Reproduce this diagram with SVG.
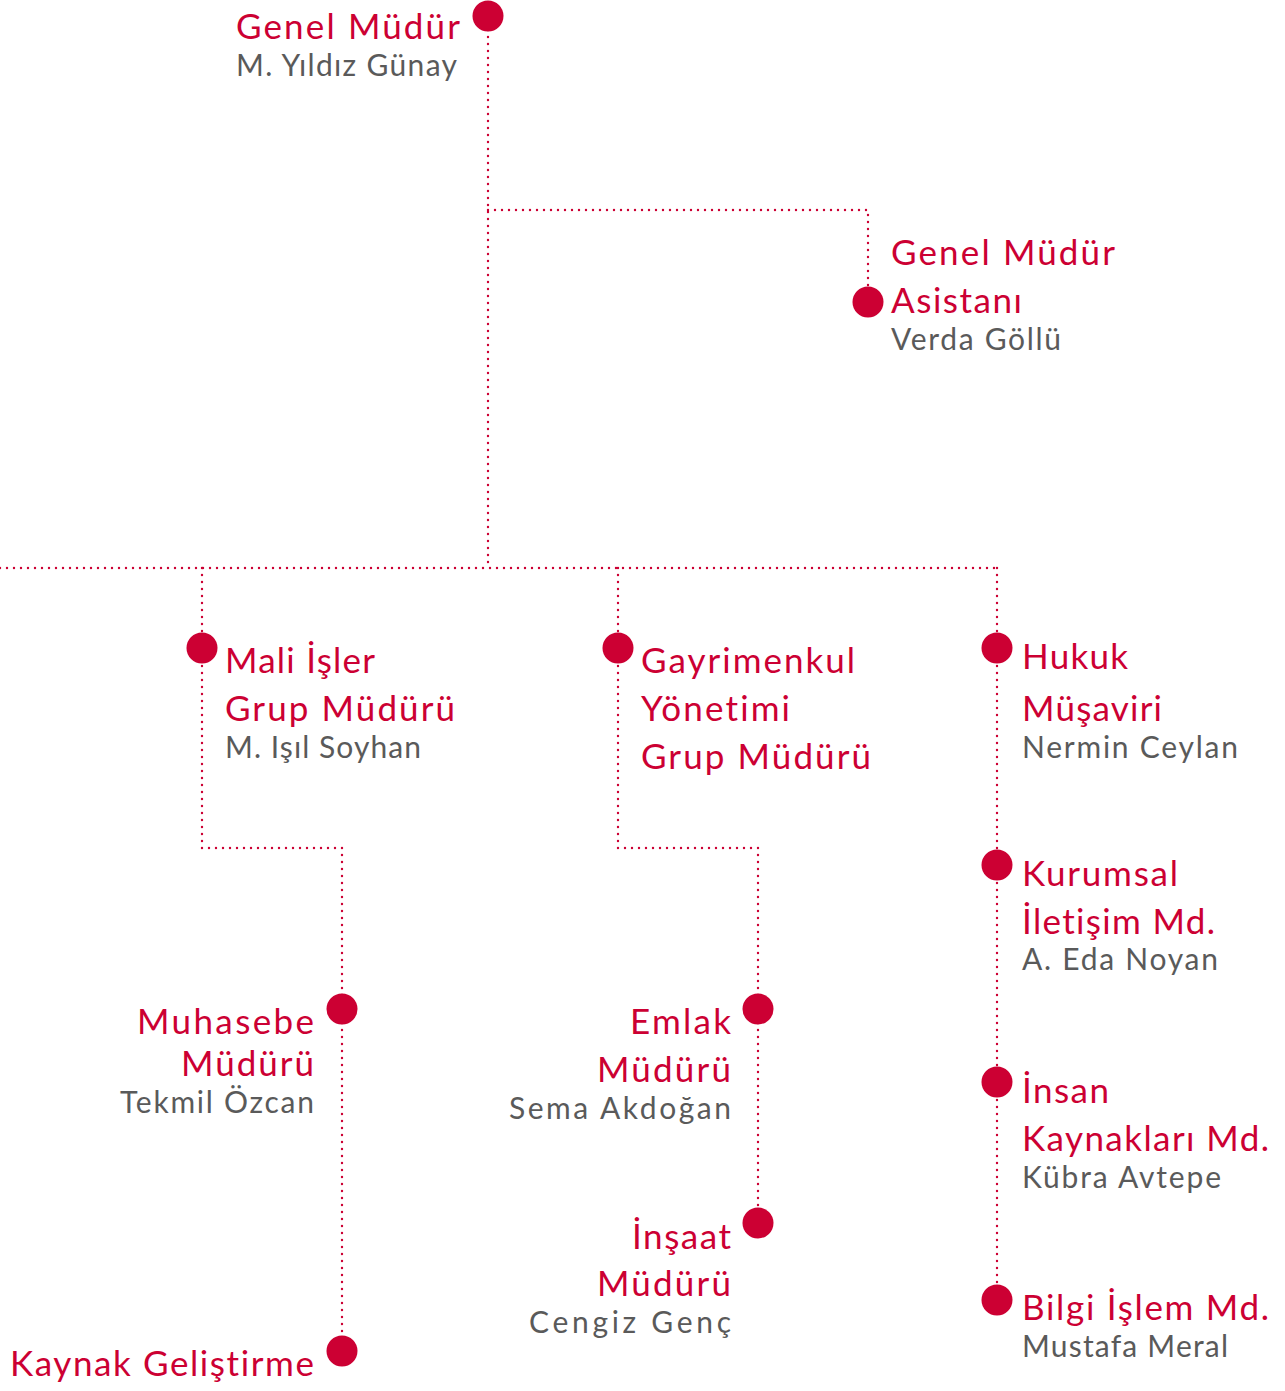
<svg xmlns="http://www.w3.org/2000/svg" width="1285" height="1391" viewBox="0 0 1285 1391">
<style>
.c{fill:none;stroke:#cc0033;stroke-width:2.4;stroke-linecap:round;stroke-dasharray:0 7}
.d{fill:#cc0033}
.t{font-family:Lato,"Open Sans",sans-serif;font-size:35px;fill:#cc0033;font-variant-ligatures:none}
.n{font-family:Lato,"Open Sans",sans-serif;font-size:30px;fill:#5a5a5a;font-variant-ligatures:none}
.e{text-anchor:end}
</style>
<rect width="1285" height="1391" fill="#fff"/>
<g id="connectors">
<path class="c" d="M488,16 V568"/>
<path class="c" d="M488,210 H868 V302"/>
<path class="c" d="M0,568 H997"/>
<path class="c" d="M202,568 V848 H342 V1351"/>
<path class="c" d="M618,568 V848 H758 V1223"/>
<path class="c" d="M997,568 V1300"/>
</g>
<g id="genel-mudur">
<circle class="d" cx="488" cy="16" r="15.5"/>
<text class="t e" x="460" y="39" textLength="224" lengthAdjust="spacing">Genel Müdür</text>
<text class="n e" x="457" y="76" textLength="221" lengthAdjust="spacing">M. Yıldız Günay</text>
</g>
<g id="asistan">
<circle class="d" cx="868" cy="302" r="15.5"/>
<text class="t" x="891" y="265" textLength="224" lengthAdjust="spacing">Genel Müdür</text>
<text class="t" x="891" y="313" textLength="131" lengthAdjust="spacing">Asistanı</text>
<text class="n" x="891" y="350" textLength="170" lengthAdjust="spacing">Verda Göllü</text>
</g>
<g id="mali-isler">
<circle class="d" cx="202" cy="648" r="15.5"/>
<text class="t" x="225" y="673" textLength="150" lengthAdjust="spacing">Mali İşler</text>
<text class="t" x="225" y="721" textLength="230" lengthAdjust="spacing">Grup Müdürü</text>
<text class="n" x="225" y="758" textLength="196" lengthAdjust="spacing">M. Işıl Soyhan</text>
</g>
<g id="gayrimenkul">
<circle class="d" cx="618" cy="648" r="15.5"/>
<text class="t" x="641" y="673" textLength="214" lengthAdjust="spacing">Gayrimenkul</text>
<text class="t" x="641" y="721" textLength="149" lengthAdjust="spacing">Yönetimi</text>
<text class="t" x="641" y="769" textLength="230" lengthAdjust="spacing">Grup Müdürü</text>
</g>
<g id="hukuk">
<circle class="d" cx="997" cy="648" r="15.5"/>
<text class="t" x="1022" y="669" textLength="106" lengthAdjust="spacing">Hukuk</text>
<text class="t" x="1022" y="721" textLength="140" lengthAdjust="spacing">Müşaviri</text>
<text class="n" x="1022" y="758" textLength="216" lengthAdjust="spacing">Nermin Ceylan</text>
</g>
<g id="kurumsal">
<circle class="d" cx="997" cy="865" r="15.5"/>
<text class="t" x="1022" y="886" textLength="156" lengthAdjust="spacing">Kurumsal</text>
<text class="t" x="1022" y="934" textLength="193" lengthAdjust="spacing">İletişim Md.</text>
<text class="n" x="1022" y="970" textLength="196" lengthAdjust="spacing">A. Eda Noyan</text>
</g>
<g id="insan">
<circle class="d" cx="997" cy="1082" r="15.5"/>
<text class="t" x="1022" y="1103" textLength="87" lengthAdjust="spacing">İnsan</text>
<text class="t" x="1022" y="1151" textLength="247" lengthAdjust="spacing">Kaynakları Md.</text>
<text class="n" x="1022" y="1188" textLength="199" lengthAdjust="spacing">Kübra Avtepe</text>
</g>
<g id="bilgi">
<circle class="d" cx="997" cy="1300" r="15.5"/>
<text class="t" x="1022" y="1320" textLength="247" lengthAdjust="spacing">Bilgi İşlem Md.</text>
<text class="n" x="1022" y="1357" textLength="206" lengthAdjust="spacing">Mustafa Meral</text>
</g>
<g id="muhasebe">
<circle class="d" cx="342" cy="1009" r="15.5"/>
<text class="t e" x="314" y="1034" textLength="177" lengthAdjust="spacing">Muhasebe</text>
<text class="t e" x="314" y="1076" textLength="133" lengthAdjust="spacing">Müdürü</text>
<text class="n e" x="314" y="1113" textLength="194" lengthAdjust="spacing">Tekmil Özcan</text>
</g>
<g id="kaynak">
<circle class="d" cx="342" cy="1351" r="15.5"/>
<text class="t e" x="314" y="1376" textLength="304" lengthAdjust="spacing">Kaynak Geliştirme</text>
</g>
<g id="emlak">
<circle class="d" cx="758" cy="1009" r="15.5"/>
<text class="t e" x="731" y="1034" textLength="101" lengthAdjust="spacing">Emlak</text>
<text class="t e" x="731" y="1082" textLength="134" lengthAdjust="spacing">Müdürü</text>
<text class="n e" x="731" y="1119" textLength="222" lengthAdjust="spacing">Sema Akdoğan</text>
</g>
<g id="insaat">
<circle class="d" cx="758" cy="1223" r="15.5"/>
<text class="t e" x="731" y="1249" textLength="99" lengthAdjust="spacing">İnşaat</text>
<text class="t e" x="731" y="1296" textLength="134" lengthAdjust="spacing">Müdürü</text>
<text class="n e" x="731" y="1333" textLength="202" lengthAdjust="spacing">Cengiz Genç</text>
</g>
</svg>
